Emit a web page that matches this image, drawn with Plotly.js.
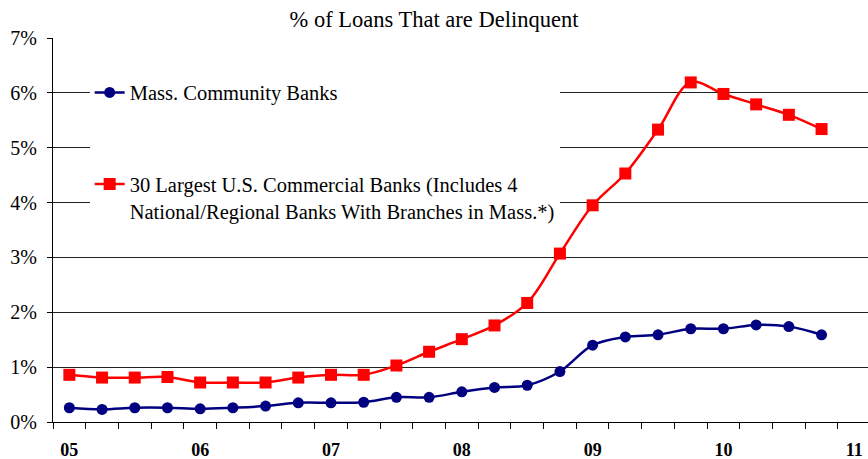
<!DOCTYPE html>
<html>
<head>
<meta charset="utf-8">
<script src="https://cdn.plot.ly/plotly-3.0.1.min.js"></script>
<style>html,body{margin:0;padding:0;background:#fff;}#chart{width:868px;height:459px;}</style>
</head>
<body>
<div id="chart"></div>
<script>
// Quarterly observations, 2005 Q1 .. 2010 Q4
const quarters = ['05Q1','05Q2','05Q3','05Q4','06Q1','06Q2','06Q3','06Q4','07Q1','07Q2','07Q3','07Q4',
                  '08Q1','08Q2','08Q3','08Q4','09Q1','09Q2','09Q3','09Q4','10Q1','10Q2','10Q3','10Q4'];
const massCommunityBanks = [0.26,0.23,0.26,0.26,0.24,0.26,0.29,0.35,0.35,0.36,0.45,0.45,
                            0.55,0.63,0.67,0.92,1.40,1.55,1.59,1.70,1.70,1.77,1.74,1.59];
const largestUSBanks = [0.86,0.81,0.81,0.82,0.72,0.72,0.72,0.81,0.86,0.86,1.03,1.28,
                        1.51,1.76,2.17,3.07,3.95,4.53,5.33,6.19,5.98,5.79,5.60,5.34];
const yearLabels = ['05','06','07','08','09','10','11'];
const yTicks = [0,1,2,3,4,5,6,7];
const yTickLabels = ['0%','1%','2%','3%','4%','5%','6%','7%'];

const xIdx = quarters.map((q, i) => i);
const yearPos = yearLabels.map((y, i) => i * 4);
const boundaries = [];
for (let i = 0; i <= quarters.length; i++) boundaries.push(i - 0.5);

const serif = 'Liberation Serif';

const traces = [
  {
    x: xIdx, y: massCommunityBanks, type: 'scatter', mode: 'lines+markers',
    name: 'Mass. Community Banks', legendgroup: 'a',
    line: {color: '#000080', width: 2.5, shape: 'spline', smoothing: 1},
    marker: {symbol: 'circle', size: 11, color: '#000080'}
  },
  {
    x: xIdx, y: largestUSBanks, type: 'scatter', mode: 'lines+markers',
    name: '30 Largest U.S. Commercial Banks (Includes 4<br>National/Regional Banks With Branches in Mass.*)',
    legendgroup: 'b',
    line: {color: '#FF0000', width: 2.5, shape: 'spline', smoothing: 1},
    marker: {symbol: 'square', size: 12, color: '#FF0000'}
  }
];

const layout = {
  width: 868, height: 459,
  margin: {l: 53, r: 0, t: 38, b: 37},
  paper_bgcolor: '#fff', plot_bgcolor: '#fff',
  font: {family: serif, color: '#000'},
  title: {
    text: '% of Loans That are Delinquent',
    font: {family: serif, size: 22.5, color: '#000'},
    x: 0.5, xref: 'container', xanchor: 'center',
    y: 0.958, yref: 'container', yanchor: 'middle'
  },
  showlegend: true,
  legend: {
    x: 0.045, xanchor: 'left', y: 0.91, yanchor: 'top',
    bgcolor: '#fff', borderwidth: 0,
    font: {family: serif, size: 20.5, color: '#000'},
    traceorder: 'grouped', tracegroupgap: 62, valign: 'top'
  },
  xaxis: {
    range: [-0.5, 24.42], showgrid: false, zeroline: false,
    showline: true, linecolor: '#000', linewidth: 1,
    tickmode: 'array', tickvals: yearPos, ticktext: yearLabels,
    ticks: '', ticklabelstandoff: 11,
    tickfont: {family: serif, size: 18, color: '#000', weight: 'bold'},
    minor: {tickmode: 'array', tickvals: boundaries, ticks: 'outside', ticklen: 6, tickcolor: '#000', tickwidth: 1, showgrid: false}
  },
  yaxis: {
    range: [0, 7], tickmode: 'array', tickvals: yTicks, ticktext: yTickLabels,
    showgrid: true, gridcolor: '#222', gridwidth: 1, zeroline: false,
    showline: true, linecolor: '#000', linewidth: 1,
    ticks: 'outside', ticklen: 5, tickcolor: '#000', ticklabelstandoff: 6,
    tickfont: {family: serif, size: 20, color: '#000'}
  }
};

Plotly.newPlot('chart', traces, layout, {displayModeBar: false, staticPlot: true});
</script>
</body>
</html>
